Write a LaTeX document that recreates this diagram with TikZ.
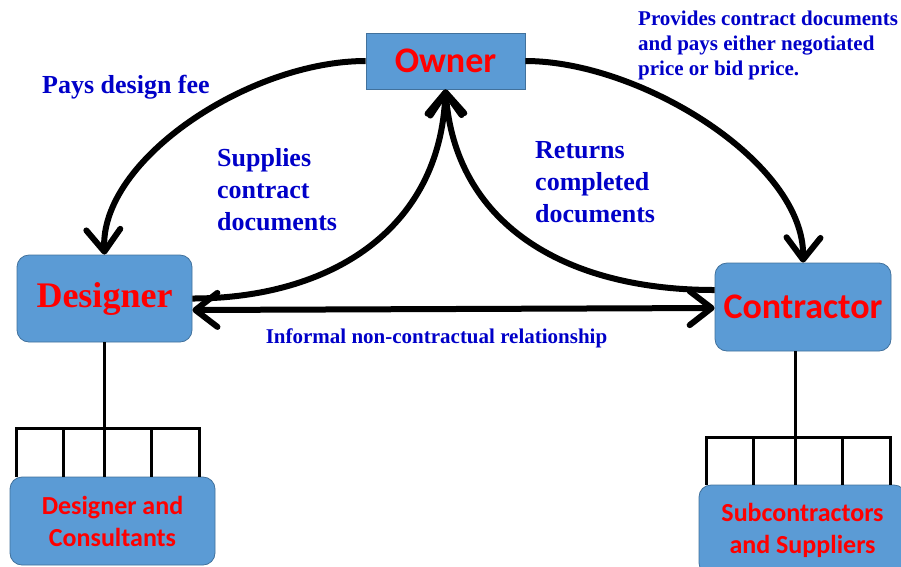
\documentclass[tikz,border=0pt]{standalone}
\usepackage{fontspec}
\setmainfont{Liberation Serif}
\newfontfamily\calibri{Carlito}
\usetikzlibrary{arrows.meta,positioning,calc}
\definecolor{boxblue}{RGB}{91,155,213}
\definecolor{boxedge}{RGB}{65,113,156}
\definecolor{textblue}{RGB}{0,0,200}

\begin{document}
\begin{tikzpicture}[
    x=1pt, y=-1pt,
    party/.style={draw=boxedge, line width=0.8pt, fill=boxblue, rounded corners=12pt, inner sep=0pt, text=red, align=center},
    flow/.style={line width=6pt, -{Straight Barb[length=22pt, width=34pt, round]}},
    tree/.style={line width=3pt},
    remark/.style={text=textblue, font=\bfseries\fontsize{26}{32}\selectfont, align=left, inner sep=0pt},
    smallremark/.style={text=textblue, font=\bfseries\fontsize{21}{25}\selectfont, align=left, inner sep=0pt}
]
\useasboundingbox (0,0) rectangle (901,566);
\clip (0,0) rectangle (901,566);

% Define the parties
\node[party, sharp corners, minimum width=159pt, minimum height=56pt, font=\calibri\bfseries\fontsize{36}{40}\selectfont] (Owner) at (445.5,61) {Owner};
\node[party, minimum width=175pt, minimum height=87pt, font=\bfseries\fontsize{36}{40}\selectfont] (Designer) at (104.5,298.5) {Designer};
\node[party, minimum width=176pt, minimum height=88pt, font=\calibri\bfseries\fontsize{36}{40}\selectfont] (Contractor) at (803,307) {Contractor};
\node[party, minimum width=205pt, minimum height=88pt, font=\calibri\bfseries\fontsize{26}{32}\selectfont] (Consult) at (112.5,521) {Designer and\\Consultants};
\node[party, minimum width=207pt, minimum height=90pt, font=\calibri\bfseries\fontsize{26}{32}\selectfont] (Subcon) at (802.5,530) {Subcontractors\\and Suppliers};

% Fork points of the two trees
\coordinate (dfork) at (104.5,428);
\coordinate (cfork) at (795,437);

% Trees below designer and contractor
\draw[tree] (Designer.south) -- (dfork |- Consult.north);
\draw[tree] ([xshift=-88pt]dfork |- Consult.north) -- ([xshift=-88pt]dfork) -- ([xshift=95pt]dfork) -- ([xshift=95pt]dfork |- Consult.north);
\foreach \dx in {-41,47}
    \draw[tree] ([xshift=\dx pt]dfork) -- ([xshift=\dx pt]dfork |- Consult.north);
\draw[tree] ([xshift=-8pt]Contractor.south) -- (cfork |- Subcon.north);
\draw[tree] ([xshift=-89pt]cfork |- Subcon.north) -- ([xshift=-89pt]cfork) -- ([xshift=95pt]cfork) -- ([xshift=95pt]cfork |- Subcon.north);
\foreach \dx in {-42,47}
    \draw[tree] ([xshift=\dx pt]cfork) -- ([xshift=\dx pt]cfork |- Subcon.north);

% Contract flows
\draw[flow] (Owner.west) .. controls +(-116,0) and +(-4.5,-95) .. (Designer.north);
\draw[flow] (Owner.east) .. controls +(115,0) and +(2,-100) .. (Contractor.north);
\draw[flow] (Designer.east) .. controls +(138,0) and +(-5.5,140) .. (Owner.south);
\draw[flow] ([yshift=17pt]Contractor.west) .. controls +(-155,0) and +(9.5,131) .. (Owner.south);
\draw[line width=6pt, {Straight Barb[length=22pt, width=34pt, round]}-{Straight Barb[length=22pt, width=34pt, round]}] ([yshift=-11.5pt]Designer.east) -- ([yshift=-1pt]Contractor.west);

% Labels of the flows
\node[remark, anchor=west] (fee) at (42,87) {Pays design fee};
\node[remark, anchor=west] (supply) at (217,190) {Supplies\\contract\\documents};
\node[remark, anchor=west] (return) at (535,182) {Returns\\completed\\documents};
\node[smallremark, anchor=west] (provide) at (638,45) {Provides contract documents\\and pays either negotiated\\price or bid price.};
\node[smallremark] (informal) at (436.5,338) {Informal non-contractual relationship};

\end{tikzpicture}
\end{document}
